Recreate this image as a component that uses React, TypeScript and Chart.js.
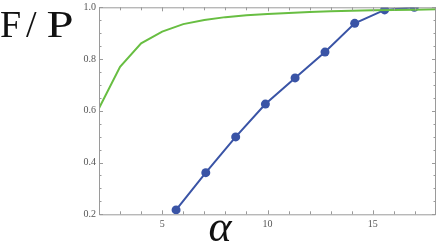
import React, { useEffect, useRef } from "react";
import { Chart, registerables } from "chart.js";

Chart.register(...registerables);

const blueX = [5.66, 7.07, 8.49, 9.9, 11.31, 12.73, 14.14, 15.56, 16.97];
const blueY = [0.217, 0.361, 0.499, 0.626, 0.727, 0.827, 0.938, 0.99, 1.0];
const greenX = [2, 3, 4, 5, 6, 7, 8, 9, 10, 11, 12, 13, 14, 15, 16, 17, 18];
const greenY = [0.61, 0.77, 0.861, 0.906, 0.935, 0.951, 0.962, 0.969, 0.974, 0.978, 0.982, 0.985, 0.987, 0.989, 0.99, 0.991, 0.992];
const xLabels = [5, 10, 15];
const yLabels = [0.2, 0.4, 0.6, 0.8, 1.0];
const yTitleParts = ["F", "/", "P"];
const xTitle = "α";

const BLUE = "rgb(58,84,166)";
const GREEN = "rgb(104,190,66)";
const AXIS = "#9a9a9a";
const SERIF = "'Liberation Serif', 'Times New Roman', serif";

const framePlugin = {
  id: "frame",
  afterDraw(chart: any) {
    const ctx = chart.ctx;
    const { left, right, top, bottom } = chart.chartArea;
    const xs = chart.scales.x;
    const ys = chart.scales.y;
    ctx.save();
    ctx.strokeStyle = AXIS;
    ctx.lineWidth = 1;
    ctx.beginPath();
    ctx.rect(left + 0.5, top + 0.5, right - left - 1, bottom - top);
    ctx.stroke();
    ctx.beginPath();
    for (let v = 2; v <= 18; v++) {
      const px = Math.round(xs.getPixelForValue(v)) + 0.5;
      const len = xLabels.includes(v) ? 4 : 3;
      ctx.moveTo(px, bottom);
      ctx.lineTo(px, bottom - len);
      ctx.moveTo(px, top);
      ctx.lineTo(px, top + len);
    }
    for (let i = 4; i <= 20; i++) {
      const v = i * 0.05;
      const py = Math.round(ys.getPixelForValue(v)) + 0.5;
      const len = i % 4 === 0 ? 4 : 2.5;
      ctx.moveTo(left, py);
      ctx.lineTo(left + len, py);
      ctx.moveTo(right, py);
      ctx.lineTo(right - len, py);
    }
    ctx.stroke();
    ctx.fillStyle = "#111";
    ctx.textBaseline = "alphabetic";
    ctx.textAlign = "left";
    ctx.font = "38px " + SERIF;
    ctx.fillText(yTitleParts[0], 0, 37);
    ctx.fillText(yTitleParts[1], 26, 37);
    ctx.save();
    ctx.translate(46.5, 37);
    ctx.scale(1.28, 1);
    ctx.fillText(yTitleParts[2], 0, 0);
    ctx.restore();
    ctx.font = "italic 44px " + SERIF;
    ctx.textAlign = "center";
    ctx.fillText(xTitle, 220, 241);
    ctx.restore();
  },
};

export default function App() {
  const ref = useRef<HTMLCanvasElement>(null);
  useEffect(() => {
    document.body.style.margin = "0";
    let chart: any = null;
    let cancelled = false;
    const make = () => {
      if (cancelled || !ref.current) return;
      chart = new Chart(ref.current, {
        type: "line",
        data: {
          datasets: [
            {
              data: greenX.map((x, i) => ({ x, y: greenY[i] })),
              borderColor: GREEN,
              borderWidth: 2,
              pointRadius: 0,
              tension: 0,
              clip: 0,
            },
            {
              data: blueX.map((x, i) => ({ x, y: blueY[i] })),
              borderColor: BLUE,
              backgroundColor: BLUE,
              borderWidth: 2,
              pointRadius: 4.5,
              pointBorderWidth: 0,
              tension: 0,
              clip: 0,
            },
          ],
        },
        options: {
          animation: false,
          responsive: false,
          layout: { autoPadding: false, padding: { top: 7.3, right: 0, left: 0, bottom: 0 } },
          plugins: { legend: { display: false }, tooltip: { enabled: false } },
          scales: {
            x: {
              type: "linear",
              min: 2,
              max: 18,
              grid: { display: false, drawTicks: false },
              border: { display: false },
              ticks: {
                stepSize: 1,
                padding: 4,
                maxRotation: 0,
                autoSkip: false,
                color: "#555",
                font: { family: SERIF, size: 10 },
                callback: (v: any) => {
                  const r = Math.round(v);
                  return xLabels.includes(r) && Math.abs(v - r) < 1e-6 ? String(r) : "";
                },
              },
              afterFit: (s: any) => {
                s.height = 27.7;
                s.paddingLeft = 0;
                s.paddingRight = 0;
              },
            },
            y: {
              type: "linear",
              min: 0.2,
              max: 1.0,
              grid: { display: false, drawTicks: false },
              border: { display: false },
              ticks: {
                stepSize: 0.05,
                padding: 3,
                autoSkip: false,
                color: "#555",
                font: { family: SERIF, size: 10 },
                callback: (v: any) => {
                  const k = Math.round(v * 100);
                  return yLabels.some((l) => Math.round(l * 100) === k) ? (k / 100).toFixed(1) : "";
                },
              },
              afterFit: (s: any) => {
                s.width = 99;
                s.paddingTop = 0;
                s.paddingBottom = 0;
              },
            },
          },
        },
        plugins: [framePlugin],
      });
    };
    const fontsApi: any = (document as any).fonts;
    if (fontsApi && fontsApi.load) {
      Promise.all([
        fontsApi.load("10px 'Liberation Serif'"),
        fontsApi.load("38px 'Liberation Serif'"),
        fontsApi.load("italic 44px 'Liberation Serif'"),
      ])
        .catch(() => null)
        .then(make);
    } else {
      make();
    }
    return () => {
      cancelled = true;
      if (chart) chart.destroy();
    };
  }, []);
  return <canvas ref={ref} width={436} height={242} style={{ display: "block" }} />;
}
